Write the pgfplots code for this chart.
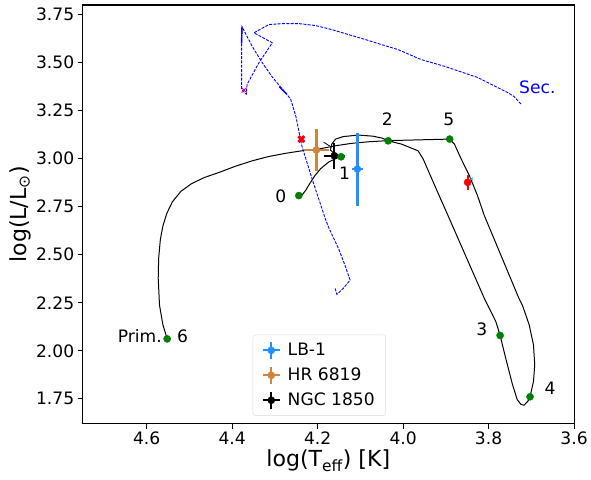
\documentclass[border=0pt]{standalone}
\usepackage{pgfplots}
\pgfplotsset{compat=1.18}
\usepackage{fontspec}
\setmainfont{DejaVu Sans}
\definecolor{dodger}{RGB}{30,144,255}
\definecolor{peru}{RGB}{205,133,63}
\definecolor{mplgreen}{RGB}{0,128,0}
\definecolor{mplcyan}{RGB}{23,190,207}

\pgfplotsset{
  errleg/.style={legend image code/.code={
    \draw[#1, line width=2pt] (0.3cm,-0.3cm) -- (0.3cm,0.3cm);
    \draw[#1, line width=2pt] (0cm,0cm) -- (0.6cm,0cm);
    \fill[#1] (0.3cm,0cm) circle (3.6pt);}},
  ebar/.style={#1, line width=2.3pt, forget plot},
  errpt/.style={only marks, mark=*, #1, mark size=3.6pt, forget plot}
}

\begin{document}
\begin{tikzpicture}
\begin{axis}[
    scale only axis,
    width=494pt, height=421pt,
    x dir=reverse,
    xmin=3.6, xmax=4.75,
    ymin=1.62, ymax=3.80,
    xtick={3.6,3.8,4.0,4.2,4.4,4.6},
    ytick={1.75,2.00,2.25,2.50,2.75,3.00,3.25,3.50,3.75},
    xticklabel style={/pgf/number format/.cd, fixed, fixed zerofill, precision=1},
    yticklabel style={/pgf/number format/.cd, fixed, fixed zerofill, precision=2},
    /pgf/number format/assume math mode=true,
    tick label style={font=\fontsize{17.2}{20}\selectfont},
    label style={font=\fontsize{22.2}{26}\selectfont},
    xlabel={log(T\textsubscript{eff}) [K]},
    ylabel={log(L/L\textsubscript{⊙})},
    xlabel style={yshift=2pt},
    ylabel style={yshift=-2pt},
    tick align=outside,
    major tick length=4.9pt,
    xtick pos=bottom, ytick pos=left,
    axis line style={line width=1.1pt},
    tick style={line width=1.1pt, black},
    legend style={at={(0.346,0.019)}, anchor=south west,
      font=\fontsize{17.2}{20}\selectfont, draw=black!15, rounded corners=3pt,
      inner xsep=9pt, inner ysep=6pt, row sep=6pt, column sep=5pt},
    legend cell align=left,
]

% primary track
\addplot[black, line width=1pt, forget plot] coordinates {
 (4.244,2.808) (4.236,2.812) (4.228,2.835) (4.218,2.872) (4.207,2.910)
 (4.193,2.948) (4.174,2.983) (4.156,3.003) (4.145,3.010) (4.160,3.024)
 (4.170,3.045) (4.167,3.076) (4.158,3.102) (4.140,3.115) (4.105,3.123)
 (4.070,3.117) (4.049,3.107) (4.035,3.093) (4.004,3.076) (3.965,3.041)
 (3.953,2.998) (3.926,2.860) (3.895,2.704) (3.810,2.273) (3.783,2.152)
 (3.773,2.080) (3.760,1.962) (3.744,1.824) (3.733,1.746) (3.724,1.721)
 (3.717,1.717) (3.708,1.738) (3.703,1.761) (3.695,1.841) (3.692,1.927)
 (3.695,2.031) (3.705,2.135) (3.721,2.238) (3.729,2.273) (3.810,2.704)
 (3.826,2.808) (3.845,2.912) (3.864,2.998) (3.880,3.076) (3.891,3.102)
 (4.035,3.094) (4.081,3.088) (4.120,3.080) (4.159,3.067) (4.198,3.050)
 (4.237,3.041) (4.275,3.028) (4.315,3.011) (4.353,2.989) (4.392,2.961)
 (4.430,2.929) (4.465,2.902) (4.495,2.870) (4.520,2.830) (4.540,2.775)
 (4.553,2.715) (4.562,2.650) (4.568,2.580) (4.572,2.480) (4.573,2.376)
 (4.570,2.238) (4.562,2.135) (4.552,2.062)
};
\addplot[black, line width=0.8pt, forget plot] coordinates {
 (4.172,3.066) (4.186,3.086)
};

% secondary track
\addplot[blue, line width=0.9pt, dash pattern=on 3pt off 1.3pt, forget plot] coordinates {
 (4.159,2.325) (4.155,2.294) (4.140,2.325) (4.124,2.368) (4.136,2.445)
 (4.151,2.532) (4.173,2.636) (4.182,2.687) (4.213,2.895) (4.237,3.067)
 (4.251,3.221) (4.263,3.309) (4.272,3.335) (4.286,3.371) (4.307,3.428)
 (4.330,3.501) (4.353,3.584) (4.377,3.687) (4.378,3.594) (4.378,3.361)
 (4.367,3.335) (4.365,3.387) (4.337,3.501) (4.306,3.603) (4.349,3.655)
 (4.333,3.675) (4.314,3.698) (4.283,3.703) (4.244,3.703) (4.205,3.693)
 (4.167,3.672) (4.128,3.646) (4.088,3.620) (4.051,3.594) (4.012,3.568)
 (3.958,3.516) (3.902,3.480) (3.826,3.423) (3.756,3.345) (3.740,3.323)
 (3.723,3.281)
};
\addplot[blue, line width=1.4pt, forget plot] coordinates {(4.377,3.687) (4.378,3.600)};
\addplot[blue, line width=1.4pt, forget plot] coordinates {(4.290,3.375) (4.272,3.335)};

% markers on tracks
\addplot[only marks, mark=x, magenta, mark size=3.5pt, line width=0.8pt, forget plot]
 coordinates {(4.372,3.357)};
\addplot[only marks, mark=x, red, mark size=4.2pt, line width=3pt, forget plot]
 coordinates {(4.238,3.102)};
\addplot[ebar=red] coordinates {(3.849,2.837) (3.849,2.917)};
\addplot[ebar=red] coordinates {(3.853,2.877) (3.845,2.877)};
\addplot[errpt=red] coordinates {(3.849,2.877)};
\addplot[only marks, mark=x, mplcyan, mark size=2pt, line width=0.7pt, forget plot]
 coordinates {(3.840,2.895)};

% observed systems
\addlegendimage{errleg=dodger}
\addlegendentry{LB-1}
\addlegendimage{errleg=peru}
\addlegendentry{HR 6819}
\addlegendimage{errleg=black}
\addlegendentry{NGC 1850}

% LB-1
\addplot[ebar=dodger] coordinates {(4.107,2.756) (4.107,3.136)};
\addplot[ebar=dodger] coordinates {(4.120,2.946) (4.094,2.946)};
\addplot[errpt=dodger] coordinates {(4.107,2.946)};
% HR 6819
\addplot[ebar=peru] coordinates {(4.203,2.935) (4.203,3.155)};
\addplot[ebar=peru] coordinates {(4.232,3.045) (4.174,3.045)};
\addplot[errpt=peru] coordinates {(4.203,3.045)};
% NGC 1850
\addplot[ebar=black] coordinates {(4.161,2.946) (4.161,3.084)};
\addplot[ebar=black] coordinates {(4.186,3.015) (4.136,3.015)};
\addplot[errpt=black] coordinates {(4.161,3.015)};

% model stages
\addplot[only marks, mark=*, mplgreen, mark size=3.6pt, forget plot] coordinates {
 (4.244,2.808) (4.145,3.010) (4.035,3.093) (3.773,2.080) (3.703,1.761)
 (3.891,3.102) (4.552,2.062)
};

\begin{scope}[font=\fontsize{17.2}{20}\selectfont]
\node at (axis cs:4.286,2.806) {0};
\node at (axis cs:4.137,2.924) {1};
\node at (axis cs:4.037,3.205) {2};
\node at (axis cs:3.816,2.113) {3};
\node at (axis cs:3.656,1.807) {4};
\node at (axis cs:3.893,3.205) {5};
\node at (axis cs:4.516,2.076) {6};
\node at (axis cs:4.616,2.076) {Prim.};
\node[blue] at (axis cs:3.686,3.371) {Sec.};
\end{scope}
\end{axis}
\path (current axis.south west) ++(-83pt,-56pt) coordinate (bbA);
\path (current axis.north east) ++(14pt,5pt) coordinate (bbB);
\path (bbA) (bbB);
\end{tikzpicture}
\end{document}
